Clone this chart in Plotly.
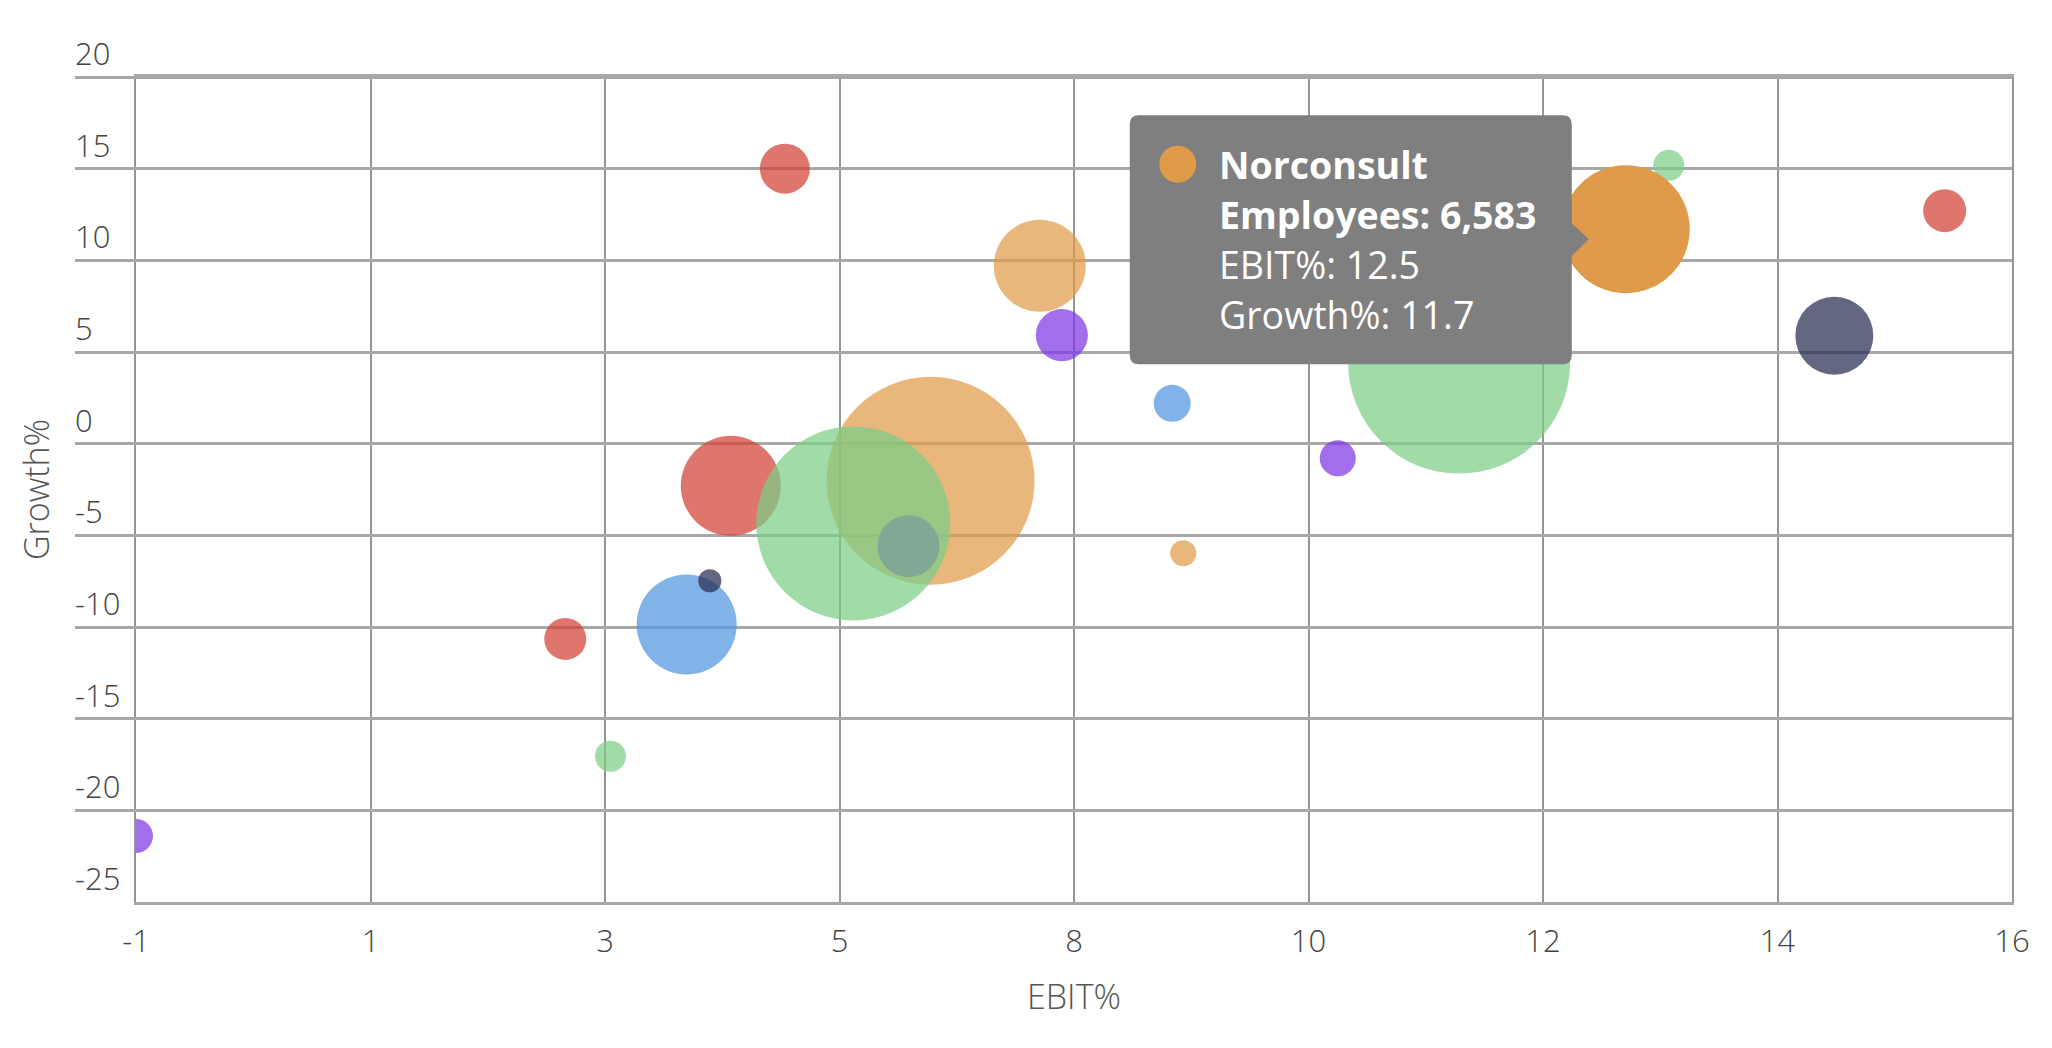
import plotly.graph_objects as go

# ---- data ----
ebit = [4.39, 6.20, 5.50, 6.00, 3.99, 4.20, 2.89, 3.30, -1.00, 4.88,
        7.19, 7.39, 8.39, 8.49, 9.89, 10.99, 12.89, 14.39, 15.39, 12.5]
growth = [-2.30, -2.02, -4.35, -5.59, -9.86, -7.48, -10.65, -17.05, -21.40, 15.00,
          9.71, 5.92, 2.20, -5.98, -0.80, 4.42, 15.18, 5.89, 12.71, 11.7]
employees = [4020, 17380, 15120, 1545, 4020, 215, 710, 386, 464, 1004,
             3400, 1090, 550, 272, 521, 19800, 386, 2444, 743, 6583]
group = ["red", "orange", "green", "teal", "blue", "navy", "red", "green", "purple", "red",
         "orange", "purple", "blue", "orange", "purple", "green", "green", "navy", "red", "orange"]
names = [""] * 19 + ["Norconsult"]
highlight = 19  # index of the hovered company (Norconsult)

palette = {"red": "#d14136", "orange": "#e09b4a", "green": "#7bcd86", "teal": "#799c9d",
           "blue": "#5194df", "navy": "#282d51", "purple": "#7e38e5"}

x_tickvals = [-1, 1.125, 3.25, 5.375, 7.5, 9.625, 11.75, 13.875, 16]
x_ticktext = ["-1", "1", "3", "5", "8", "10", "12", "14", "16"]
y_tickvals = [-25, -20, -15, -10, -5, 0, 5, 10, 15, 20]
y_ticktext = ["-25", "-20", "-15", "-10", "-5", "0", "5", "10", "15", "20"]
x_range = [-1, 16]
y_range = [-25, 20]

FONT = "Open Sans"
W, H = 2052, 1048
ML, MR, MT, MB = 74, 40, 30, 146
plot_left, plot_top, plot_bottom = 136, 77, 902
x_dom0 = (plot_left - ML) / (W - ML - MR)
paper_h = H - MT - MB
y_dom1 = (plot_bottom - plot_top) / paper_h
# second y axis (labels/horizontal grid) spans the full paper height with the same scale
px_per_unit = (plot_bottom - plot_top) / (y_range[1] - y_range[0])
y2_range = [y_range[0], y_range[1] + (plot_top - MT) / px_per_unit]

colors = [palette[g] for g in group]
opac = [1.0 if i == highlight else 0.72 for i in range(len(ebit))]
sizeref = 2 * employees[highlight] / 128 ** 2

fig = go.Figure()
# empty trace so the main (x, y) subplot with the x axis and vertical grid is drawn
fig.add_trace(go.Scatter(x=[None], y=[None], xaxis="x", yaxis="y", mode="markers",
                         hoverinfo="skip", showlegend=False))
fig.add_trace(go.Scatter(
    x=ebit, y=growth, mode="markers", xaxis="x2", yaxis="y2",
    marker=dict(size=employees, sizemode="area", sizeref=sizeref, color=colors,
                opacity=opac, line=dict(width=0)),
    hoverinfo="skip", showlegend=False, cliponaxis=True,
))

grid_x = "#959595"
grid_y = "#a8a8a8"
tickfont = dict(family=FONT, size=31, color="#444444", weight=300)
titlefont = dict(family=FONT, size=34, color="#555555", weight=300)

fig.update_layout(
    width=W, height=H,
    margin=dict(l=ML, r=MR, t=MT, b=MB, autoexpand=False),
    paper_bgcolor="white", plot_bgcolor="rgba(0,0,0,0)",
    font=dict(family=FONT, color="#444444"),
    xaxis=dict(
        domain=[x_dom0, 1], range=x_range, tickvals=x_tickvals, ticktext=x_ticktext,
        showgrid=True, gridcolor=grid_x, gridwidth=2, zeroline=False,
        showline=True, linecolor=grid_y, linewidth=2.5, mirror=True,
        ticks="", ticklabelstandoff=10, tickfont=tickfont,
        title=dict(text="EBIT%", font=titlefont, standoff=26),
        automargin=False, anchor="y",
    ),
    yaxis=dict(
        domain=[0, y_dom1], anchor="x", range=y_range,
        showgrid=False, zeroline=False, ticks="", showticklabels=False,
        showline=True, linecolor=grid_x, linewidth=2, mirror=True,
        title=dict(text="Growth%", font=titlefont, standoff=74),
        automargin=False,
    ),
    xaxis2=dict(domain=[x_dom0, 1], range=x_range, anchor="y2", visible=False),
    yaxis2=dict(
        domain=[0, 1], anchor="free", position=0, range=y2_range,
        tickvals=y_tickvals, ticktext=y_ticktext,
        showgrid=True, gridcolor=grid_y, gridwidth=2.5, zeroline=False, showline=False,
        ticks="inside", ticklen=plot_left - ML, tickwidth=2.5, tickcolor=grid_y,
        ticklabelposition="inside top", ticklabelstandoff=-3, tickfont=tickfont,
        automargin=False,
    ),
)

# ---- hover tooltip for the highlighted company, anchored at its data point ----
hx, hy = ebit[highlight], growth[highlight]
L, R, T, B, r = -496, -54, 114, -135, 9
path = (f"M {L+r},{T} H {R-r} Q {R},{T} {R},{T-r} V 6 L -37,-10 L {R},-27 "
        f"V {B+r} Q {R},{B} {R-r},{B} H {L+r} Q {L},{B} {L},{B+r} V {T-r} Q {L},{T} {L+r},{T} Z")
fig.add_shape(type="path", xref="x2", yref="y2", xsizemode="pixel", ysizemode="pixel",
              xanchor=hx, yanchor=hy, path=path, fillcolor="#7f7f7f",
              line=dict(width=0), layer="above")
fig.add_shape(type="circle", xref="x2", yref="y2", xsizemode="pixel", ysizemode="pixel",
              xanchor=hx, yanchor=hy, x0=-466.5, x1=-429.5, y0=46.5, y1=83.5,
              fillcolor=palette[group[highlight]], line=dict(width=0), layer="above")

lines = [f"<b>{names[highlight]}</b>",
         f"<b>Employees: {employees[highlight]:,}</b>",
         f"EBIT%: {ebit[highlight]}",
         f"Growth%: {growth[highlight]}"]
shifts = [65, 15, -35, -85]
for txt, ys in zip(lines, shifts):
    fig.add_annotation(x=hx, y=hy, xref="x2", yref="y2", text=txt, showarrow=False,
                       xanchor="left", yanchor="middle", xshift=-409, yshift=ys,
                       font=dict(family=FONT, size=37.5, color="white"))

fig.write_html("out.html", config={"displayModeBar": False},
               post_script="document.body.style.margin='0';")
